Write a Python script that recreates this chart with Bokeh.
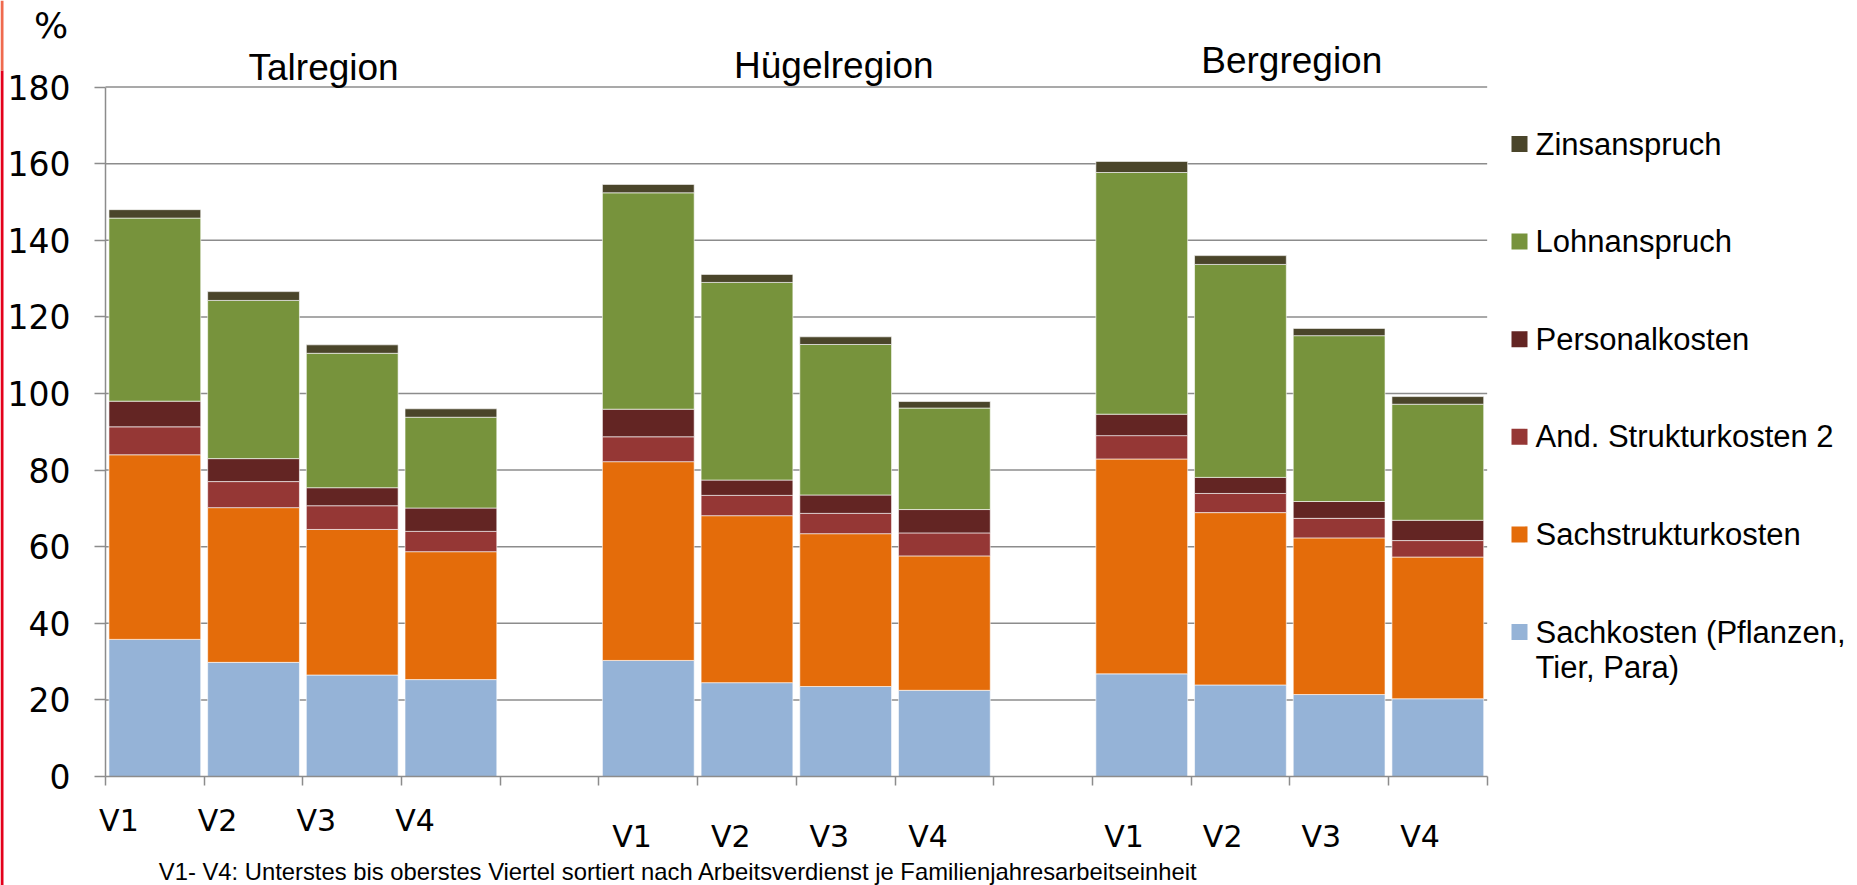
from bokeh.plotting import figure
from bokeh.models import ColumnDataSource, Range1d, FixedTicker, Label
from bokeh.layouts import row
from bokeh.embed import file_html
from bokeh.resources import INLINE
from bokeh.core.properties import value

# ---------------- data ----------------
regions = ["Talregion", "Hügelregion", "Bergregion"]
quarters = ["V1", "V2", "V3", "V4"]
series = ["Sachkosten (Pflanzen, Tier, Para)", "Sachstrukturkosten",
          "And. Strukturkosten 2", "Personalkosten", "Lohnanspruch", "Zinsanspruch"]
legend_lines = {"Sachkosten (Pflanzen, Tier, Para)": ["Sachkosten (Pflanzen,", "Tier, Para)"]}

# order of values: Tal V1..V4, Hügel V1..V4, Berg V1..V4
sachkosten = [35.8, 29.8, 26.5, 25.3, 30.3, 24.5, 23.5, 22.5, 26.8, 23.9, 21.4, 20.3]
sachstruktur = [48.2, 40.4, 38.0, 33.4, 51.9, 43.6, 39.9, 35.1, 56.1, 45.0, 40.9, 37.0]
and_struktur = [7.3, 6.8, 6.2, 5.3, 6.5, 5.3, 5.3, 6.0, 6.1, 5.0, 5.1, 4.3]
personal = [6.7, 6.0, 4.7, 6.1, 7.2, 4.0, 4.8, 6.1, 5.6, 4.2, 4.4, 5.3]
lohn = [47.8, 41.3, 35.1, 23.7, 56.5, 51.6, 39.3, 26.5, 63.1, 55.6, 43.3, 30.3]
zins = [2.2, 2.3, 2.2, 2.2, 2.2, 2.1, 2.0, 1.7, 2.9, 2.3, 1.9, 2.0]

y_ticks = [0, 20, 40, 60, 80, 100, 120, 140, 160, 180]
unit_label = "%"
footnote = "V1- V4: Unterstes bis oberstes Viertel sortiert nach Arbeitsverdienst je Familienjahresarbeitseinheit"

# ---------------- styles / layout ----------------
colors = ["#95B3D7", "#E46C0A", "#953735", "#632523", "#77933C", "#4A452A"]
FONT_T = "Liberation Sans"
FONT_C = "DejaVu Sans"
GRID = "#8c8c8c"
SLOTS_PER_GROUP = 5          # 4 bars + 1 empty slot
N_SLOTS = 14
Y_MAX = 180
W_MAIN, W_LEG, H = 1500, 357, 885
PX_SLOT = 98.69              # pixels per category slot
PX_UNIT = 3.830              # pixels per percent
X0_PX, Y0_PX = 105, 776      # where the axes cross, in canvas pixels

title_x = [2.21, 7.38, 12.02]
title_y = [185.0, 185.6, 186.9]
qlabel_off = [0.136, 0.335, 0.32]
qlabel_y = [-11.6, -15.6, -15.6]

slot_x = []
for g in range(len(regions)):
    for i in range(len(quarters)):
        slot_x.append(g * SLOTS_PER_GROUP + i + 0.5)

keys = ["s0", "s1", "s2", "s3", "s4", "s5"]
src = ColumnDataSource(dict(x=slot_x, s0=sachkosten, s1=sachstruktur, s2=and_struktur,
                            s3=personal, s4=lohn, s5=zins))

x_rng = Range1d(-X0_PX / PX_SLOT, (W_MAIN - X0_PX) / PX_SLOT)
y_rng = Range1d(-(H - Y0_PX) / PX_UNIT, Y0_PX / PX_UNIT)

p = figure(width=W_MAIN, height=H, x_range=x_rng, y_range=y_rng,
           output_backend="svg", toolbar_location=None,
           min_border_left=0, min_border_right=0, min_border_top=0, min_border_bottom=0)
p.outline_line_color = None
p.grid.visible = False

# decorative red stripe at the left page edge (slide frame)
p.quad(left=[x_rng.start, x_rng.start], right=[x_rng.start + 3 / PX_SLOT] * 2,
       bottom=[y_rng.start, y_rng.end - 70 / PX_UNIT], top=[y_rng.end - 70 / PX_UNIT, y_rng.end],
       color=["#E3001B", "#EF6A4E"], line_color=None)

# horizontal gridlines (only over the plot area)
gl = [t for t in y_ticks if t > 0]
p.segment(x0=[0] * len(gl), y0=gl, x1=[N_SLOTS] * len(gl), y1=gl,
          line_color=GRID, line_width=1.5)

p.vbar_stack(keys, x="x", width=0.93, color=colors, source=src,
             line_color="white", line_alpha=0.6, line_width=1)

# axes crossing at (0, 0)
p.xaxis.fixed_location = 0
p.yaxis.fixed_location = 0
p.xaxis.bounds = (0, N_SLOTS)
p.yaxis.bounds = (0, Y_MAX)
p.xaxis.ticker = FixedTicker(ticks=list(range(N_SLOTS + 1)))
p.xaxis.major_label_overrides = {i: "" for i in range(N_SLOTS + 1)}
p.yaxis.ticker = FixedTicker(ticks=y_ticks)
for ax in (p.xaxis[0], p.yaxis[0]):
    ax.axis_line_color = GRID
    ax.axis_line_width = 1.5
    ax.major_tick_line_color = GRID
    ax.major_tick_line_width = 1.5
    ax.major_tick_in = 0
    ax.minor_tick_line_color = None
p.yaxis.major_tick_out = 11
p.xaxis.major_tick_out = 9
p.yaxis.major_label_text_font = FONT_C
p.yaxis.major_label_text_font_size = "33px"
p.yaxis.major_label_text_color = "black"
p.yaxis.major_label_standoff = 24

# texts
p.add_layout(Label(x=-0.55, y=196.0, text=unit_label, text_font=FONT_C, text_font_size="36px",
                   text_align="center", text_baseline="alphabetic", text_color="black"))
for g, name in enumerate(regions):
    p.add_layout(Label(x=title_x[g], y=title_y[g], text=name, text_font=FONT_T,
                       text_font_size="37px", text_align="center",
                       text_baseline="alphabetic", text_color="black"))
    for i, q in enumerate(quarters):
        p.add_layout(Label(x=g * SLOTS_PER_GROUP + i + qlabel_off[g],
                           y=qlabel_y[g], text=q, text_font=FONT_C, text_font_size="30px",
                           text_align="center", text_baseline="alphabetic", text_color="black"))
p.add_layout(Label(x=0.54, y=-24.9, text=footnote, text_font=FONT_T, text_font_size="23.8px",
                   text_align="left", text_baseline="alphabetic", text_color="black"))

# legend drawn in its own panel to the right
lg = figure(width=W_LEG, height=H, x_range=Range1d(0, W_LEG), y_range=Range1d(H, 0),
            output_backend="svg", toolbar_location=None,
            min_border_left=0, min_border_right=0, min_border_top=0, min_border_bottom=0)
lg.axis.visible = False
lg.grid.visible = False
lg.outline_line_color = None
order = list(range(len(series)))[::-1]   # top to bottom: Zins ... Sachkosten
first_y, step = 143.5, 97.6
sq_x, sq_size, text_x, line_h = 19, 16, 35, 35.5
sq_y, sq_c, t_x, t_y, t_txt = [], [], [], [], []
for k, idx in enumerate(order):
    yc = first_y + k * step
    sq_y.append(yc)
    sq_c.append(colors[idx])
    lines = legend_lines.get(series[idx], [series[idx]])
    for j, ln in enumerate(lines):
        t_x.append(text_x)
        t_y.append(yc + j * line_h)
        t_txt.append(ln)
lg.rect(x=[sq_x] * len(sq_y), y=sq_y, width=sq_size, height=sq_size, color=sq_c, line_color=None)
lg.text(x=t_x, y=t_y, text=t_txt, text_font=value(FONT_T), text_font_size="31px",
        text_baseline="middle", text_align="left", text_color="black")

layout = row(p, lg)
open("out.html", "w").write(file_html(layout, INLINE))
